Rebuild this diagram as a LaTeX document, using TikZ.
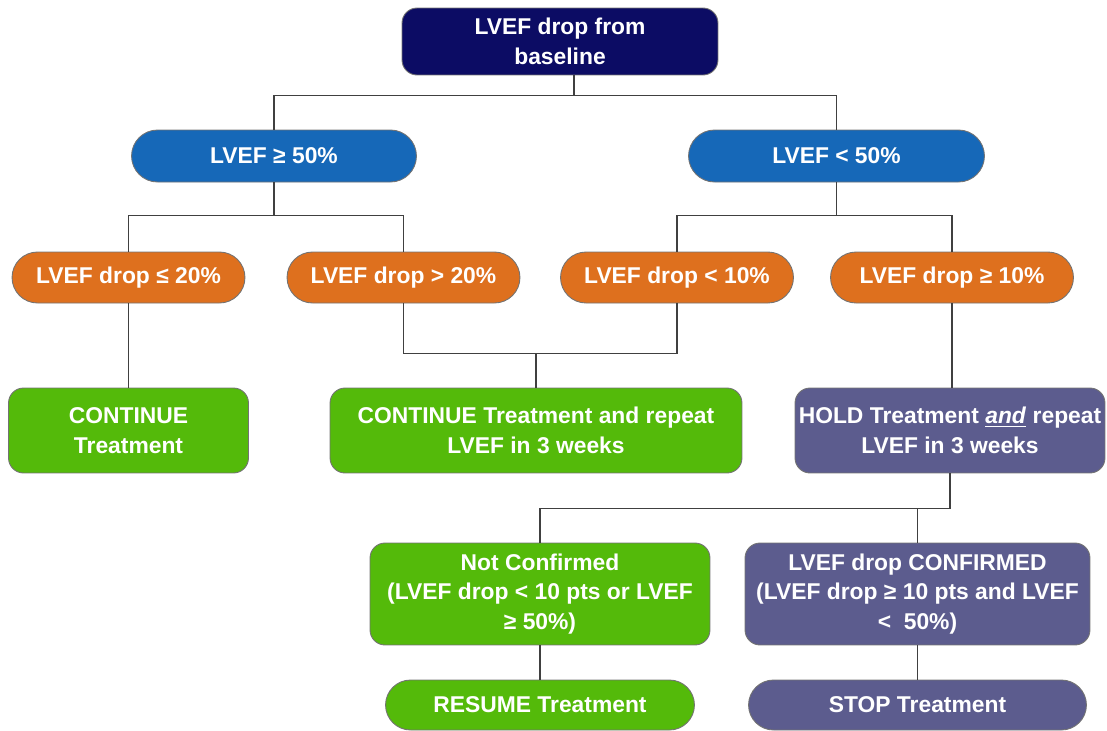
\documentclass[tikz,border=0pt]{standalone}
\usepackage{fontspec}
\setmainfont{Liberation Sans}
\usetikzlibrary{shapes.misc}
\definecolor{navybox}{RGB}{12,12,100}
\definecolor{bluebox}{RGB}{22,104,184}
\definecolor{orangebox}{RGB}{222,112,30}
\definecolor{greenbox}{RGB}{84,186,10}
\definecolor{purplebox}{RGB}{92,92,142}

\begin{document}
\begin{tikzpicture}[x=0.02cm,y=-0.02cm,
	box/.style={draw=black!55,line width=0.5pt,text=white,align=center,inner sep=2pt,
		font=\fontsize{13}{17}\selectfont\bfseries},
	pill/.style={box,rounded rectangle,minimum height=1.02cm},
	card/.style={box,rectangle,rounded corners=0.3cm},
	link/.style={draw=black!75,line width=0.6pt}]
			\useasboundingbox (0,0) rectangle (1107,731);
			% level 0 and 1
			\node [card,fill=navybox,minimum width=6.32cm,minimum height=1.34cm] (drop) at (560,41.5) {LVEF drop from\\baseline};
			\node [pill,fill=bluebox,minimum width=5.84cm,minimum height=1.04cm] (hi) at (274,156) {LVEF ≥ 50\%};
			\node [pill,fill=bluebox,minimum width=6.06cm,minimum height=1.04cm] (lo) at (836.5,156) {LVEF < 50\%};
			% level 2
			\node [pill,fill=orangebox,minimum width=4.8cm] (hismall) at (128.5,277.5) {LVEF drop ≤ 20\%};
			\node [pill,fill=orangebox,minimum width=4.8cm] (hibig) at (403.5,277.5) {LVEF drop > 20\%};
			\node [pill,fill=orangebox,minimum width=4.8cm] (losmall) at (677,277.5) {LVEF drop < 10\%};
			\node [pill,fill=orangebox,minimum width=5cm] (lobig) at (952,277.5) {LVEF drop ≥ 10\%};
			% level 3
			\node [card,fill=greenbox,minimum width=4.8cm,minimum height=1.7cm] (cont) at (128.5,430.5) {CONTINUE\\Treatment};
			\node [card,fill=greenbox,minimum width=8.24cm,minimum height=1.7cm] (contrep) at (536,430.5) {CONTINUE Treatment and repeat\\LVEF in 3 weeks};
			\node [card,fill=purplebox,minimum width=6.2cm,minimum height=1.7cm] (hold) at (950,430.5) {HOLD Treatment \underline{\textit{and}} repeat\\LVEF in 3 weeks};
			% level 4 and 5
			\node [card,fill=greenbox,minimum width=6.8cm,minimum height=2.04cm] (notconf) at (540,594) {Not Confirmed\\(LVEF drop < 10 pts or LVEF\\≥ 50\%)};
			\node [card,fill=purplebox,minimum width=6.9cm,minimum height=2.04cm] (conf) at (917.5,594) {LVEF drop CONFIRMED\\(LVEF drop ≥ 10 pts and LVEF\\<\ \ 50\%)};
			\node [pill,fill=greenbox,minimum width=6.32cm,minimum height=1cm] (resume) at (540,705) {RESUME Treatment};
			\node [pill,fill=purplebox,minimum width=6.9cm,minimum height=1cm] (stop) at (917.5,705) {STOP Treatment};
			% connectors
			\draw [link] ([xshift=0.28cm]drop.south) -- ++(0,21);
			\draw [link] (hi.north) -- ++(0,-34) -| (lo.north);
			\draw [link] (hi.south) -- ++(0,34);
			\draw [link] (hismall.north) -- ++(0,-36) -| (hibig.north);
			\draw [link] (lo.south) -- ++(0,34);
			\draw [link] (losmall.north) -- ++(0,-36) -| (lobig.north);
			\draw [link] (hismall.south) -- (cont.north);
			\draw [link] (hibig.south) -- ++(0,50) -| (losmall.south);
			\draw [link] (contrep.north) -- ++(0,-35);
			\draw [link] (lobig.south) -- (lobig.south |- hold.north);
			\draw [link] (hold.south) -- ++(0,35) -| (notconf.north);
			\draw [link] (conf.north) -- ++(0,-35);
			\draw [link] (notconf.south) -- (resume.north);
			\draw [link] (conf.south) -- (stop.north);
\end{tikzpicture}
\end{document}
